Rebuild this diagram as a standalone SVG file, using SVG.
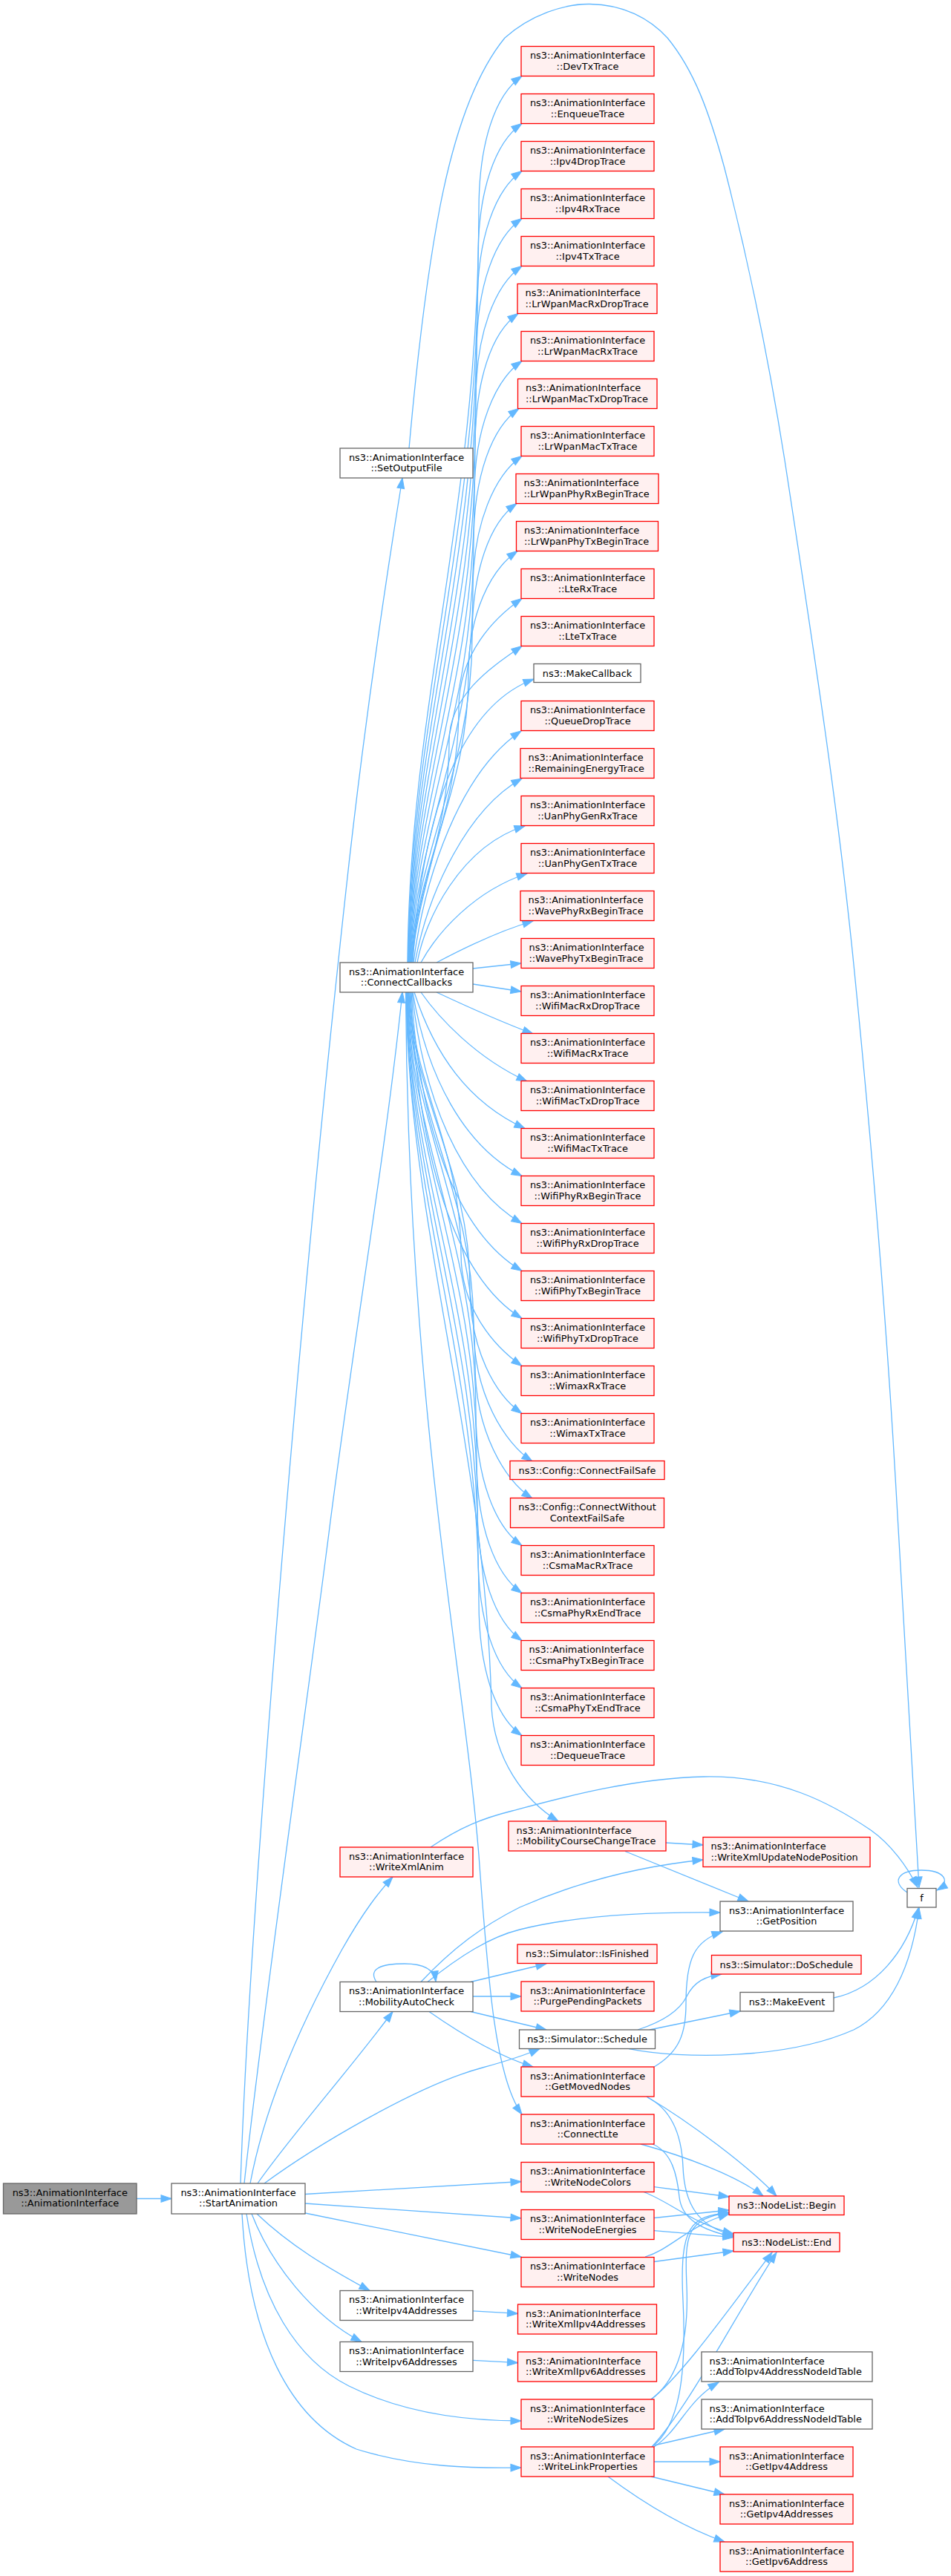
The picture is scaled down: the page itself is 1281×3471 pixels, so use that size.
<svg xmlns="http://www.w3.org/2000/svg" width="1281" height="3471" viewBox="0 0 1281 3471">
<style>
.red rect{fill:#fff0f0;stroke:#ff0000;stroke-width:1.3}
.gray rect{fill:#ffffff;stroke:#666666;stroke-width:1.3}
.root rect{fill:#999999;stroke:#666666;stroke-width:1.3}
text{font-family:"DejaVu Sans",sans-serif;font-size:12.9px;fill:#000000;text-anchor:middle}
text.l{text-anchor:start}
#edges path{fill:none;stroke:#63b8ff;stroke-width:1.3;marker-end:url(#arr)}
</style>
<defs>
<marker id="arr" markerUnits="userSpaceOnUse" markerWidth="14" markerHeight="10" refX="13" refY="4.5" orient="auto" viewBox="0 0 13 9" overflow="visible">
<path d="M0,0 L13,4.5 L0,9 z" fill="#63b8ff" stroke="#63b8ff" stroke-width="1"/>
</marker>
</defs>
<rect width="1281" height="3471" fill="#ffffff"/>
<g id="edges">
<path d="M184,2962.5 L231,2962.5"/>
<path d="M324,2942 C335,2600 400,1800 466,1200 C490,980 520,780 542,644"/>
<path d="M329,2942 C355,2700 420,2250 445,2050 C480,1780 520,1550 542,1337"/>
<path d="M337,2942 C360,2820 420,2700 460,2628 C490,2575 510,2550 529,2529"/>
<path d="M347,2942 C390,2880 470,2790 529,2710.5"/>
<path d="M356,2942 C420,2895 560,2810 650,2786 C690,2775 710,2768 727,2760.5"/>
<path d="M411,2956.5 L702,2939.5"/>
<path d="M411,2969 L702,2989"/>
<path d="M411,2982 L702,3041"/>
<path d="M346,2983 C390,3025 440,3055 498,3086.5"/>
<path d="M339,2983 C365,3050 420,3120 487,3155.5"/>
<path d="M332,2983 C350,3100 400,3180 470,3215 C540,3250 620,3262 702,3262"/>
<path d="M326,2983 C335,3150 390,3260 480,3300 C560,3325 640,3326 702,3325"/>
<path d="M637,3113.8 L697.5,3117.4"/>
<path d="M637,3180.4 L697.5,3183.7"/>
<path d="M551,604 C562,480 575,370 593,277 C612,180 640,100 680,51 C715,20 760,5 794.5,5.5 C840,6 875,25 899,51 C935,95 955,150 975.5,225 C1000,320 1030,450 1057,620 C1100,900 1130,1100 1150,1300 C1175,1550 1195,1800 1206,1990 C1218,2200 1230,2400 1238,2543"/>
<path d="M549,1297 C552,942 645,688 645,282.5 C645,192.5 667,127.5 703,102.5"/>
<path d="M549.5,1297 C553,964 644,727 644,346.5 C644,256.5 667,191.5 703,166.5"/>
<path d="M550,1297 C554,987 643,765 643,410.5 C643,320.5 667,255.5 703,230.5"/>
<path d="M550.5,1297 C555,1009 642,804 642,474.5 C642,384.5 667,319.5 703,294.5"/>
<path d="M551,1297 C556,1032 641,842 641,538.5 C641,448.5 667,383.5 703,358.5"/>
<path d="M551.5,1297 C557,1054 640,880 640,602.5 C640,512.5 662,447.5 698,422.5"/>
<path d="M552,1297 C558,1076 639,919 639,666.5 C639,576.5 667,511.5 703,486.5"/>
<path d="M552.5,1297 C559,1099 638,957 638,730.5 C638,640.5 663,575.5 699,550.5"/>
<path d="M553,1297 C560,1121 637,996 637,794.5 C637,704.5 667,639.5 703,614.5"/>
<path d="M553.5,1297 C561,1144 636,1034 636,858.5 C636,768.5 660,703.5 696,678.5"/>
<path d="M554,1297 C562,1161 631,1064 631,909 C631,826 661,767.5 697,742.5"/>
<path d="M554.5,1297 C563,1177 618,1091 618,954 C618,880 667,831.5 703,806.5"/>
<path d="M555,1297 C564,1192 605,1118 605,998.5 C605,934.5 667,895.5 703,870.5"/>
<path d="M556,1297 C565,1150 600,960 719,915"/>
<path d="M557,1297 C572,1180 620,1040 702,985"/>
<path d="M559,1297 C577,1200 630,1090 703,1049"/>
<path d="M562,1297 C572,1240 620,1140 707,1113"/>
<path d="M567,1297 C590,1255 640,1200 710,1177"/>
<path d="M588,1297 C620,1280 670,1255 718,1241"/>
<path d="M637,1305 L702,1298"/>
<path d="M637,1326 L702,1336"/>
<path d="M588,1337 C620,1352 670,1375 718,1393"/>
<path d="M567,1337 C590,1370 640,1425 710,1457"/>
<path d="M558,1337 C585,1420 630,1485 707,1520.5"/>
<path d="M556,1337 C575,1450 625,1545 703,1584.5"/>
<path d="M555,1337 C570,1480 620,1600 703,1648.5"/>
<path d="M554,1337 C565,1520 615,1660 703,1712.5"/>
<path d="M553,1337 C563,1560 612,1720 703,1776.5"/>
<path d="M552,1337 C555,1460 621,1548 621,1689.5 C621,1765 667,1815.5 703,1840.5"/>
<path d="M551,1337 C554,1476 633,1575 633,1734 C633,1819 667,1879.5 703,1904.5"/>
<path d="M550.5,1337 C553,1495 638,1608 638,1788.5 C638,1878.5 680,1945 717,1969"/>
<path d="M550,1337 C553,1512 640,1638 640,1838.5 C640,1928.5 680,1995 717,2019"/>
<path d="M549.5,1337 C552,1535 641,1676 641,1902.5 C641,1992.5 667,2057.5 703,2082.5"/>
<path d="M549,1337 C552,1557 642,1715 642,1966.5 C642,2056.5 667,2121.5 703,2146.5"/>
<path d="M548.5,1337 C551,1580 643,1753 643,2030.5 C643,2120.5 667,2185.5 703,2210.5"/>
<path d="M548,1337 C551,1602 644,1791.5 644,2094.5 C644,2184.5 667,2249.5 703,2274.5"/>
<path d="M547.5,1337 C550,1624.5 645,1830 645,2158.5 C645,2248.5 667,2313.5 703,2338.5"/>
<path d="M547,1337 C550,1650 655,1950 662,2300 C666,2370 705,2425 752,2454"/>
<path d="M546.5,1337 C550,1900 625,2250 645,2500 C658,2680 668,2800 703,2849"/>
<path d="M580,2489 C620,2462 650,2450 690,2440 C750,2424 850,2396 948,2394 C1050,2392 1120,2430 1173,2466 C1200,2485 1222,2515 1236,2543"/>
<path d="M897,2483 L947,2486"/>
<path d="M842,2494.5 L1008,2562"/>
<path d="M507,2670.5 C495,2652 515,2646 545,2646 C570,2646 585,2653 587,2670"/>
<path d="M567,2670.5 C610,2625 650,2595 700,2570 C780,2535 860,2515 947,2506"/>
<path d="M576,2670.5 C620,2635 660,2610 700,2600 C780,2580 880,2576 970,2577"/>
<path d="M634,2670.5 L736,2646"/>
<path d="M637,2690 L702,2690"/>
<path d="M634,2710.5 L736,2735"/>
<path d="M578,2710.5 C620,2740 670,2770 718,2785"/>
<path d="M859,2735 C890,2725 915,2710 925,2690 C935,2670 950,2663 972,2660"/>
<path d="M875,2735 L997,2710"/>
<path d="M847,2760.6 C920,2775 1060,2775 1150,2735 C1200,2710 1228,2650 1238,2571"/>
<path d="M1123,2692 C1180,2680 1220,2630 1237,2571"/>
<path d="M1222,2550 C1200,2535 1210,2520 1241,2520 C1272,2520 1282,2535 1262,2547"/>
<path d="M881,2785 C915,2765 924,2740 924,2700 C924,2640 935,2615 973,2603"/>
<path d="M871,2825 C930,2860 1010,2920 1046,2959"/>
<path d="M872,2826 C900,2840 918,2870 920,2920 C922,2970 940,3000 988,3012"/>
<path d="M863,2889 C920,2905 990,2930 1028,2959"/>
<path d="M879,2889 C905,2900 912,2930 915,2960 C918,2990 945,3005 988,3014"/>
<path d="M881,2946.6 L982,2960"/>
<path d="M867,2953.5 C905,2968 930,2995 988,3010"/>
<path d="M881,2988.5 L982,2978"/>
<path d="M881,3005.6 L988,3014.7"/>
<path d="M869,3041 C905,3030 925,3000 982,2983"/>
<path d="M881,3047.5 L988,3033"/>
<path d="M877,3233 C915,3205 928,3150 925,3080 C922,3010 925,2990 982,2981"/>
<path d="M877,3233 C920,3200 990,3100 1040,3035"/>
<path d="M878,3297 C915,3270 925,3200 920,3100 C915,3000 930,2985 982,2982"/>
<path d="M878,3297 C930,3240 990,3120 1046,3035"/>
<path d="M881,3297 C915,3275 925,3235 968,3210"/>
<path d="M881,3295 L976,3273"/>
<path d="M881,3317 L970,3317"/>
<path d="M877,3337 L976,3361"/>
<path d="M819,3337 C870,3375 920,3405 976,3425"/>
</g>
<g id="n-AnimationInterface" class="root"><rect x="4.5" y="2942" width="179.5" height="41"/><text x="94.25" y="2958.5">ns3::AnimationInterface</text><text x="94.25" y="2973">::AnimationInterface</text></g>
<g id="n-StartAnimation" class="gray"><rect x="231" y="2942" width="180" height="41"/><text x="321" y="2958.5">ns3::AnimationInterface</text><text x="321" y="2973">::StartAnimation</text></g>
<g id="n-SetOutputFile" class="gray"><rect x="458" y="604" width="179" height="40"/><text x="547.5" y="620.5">ns3::AnimationInterface</text><text x="547.5" y="635">::SetOutputFile</text></g>
<g id="n-ConnectCallbacks" class="gray"><rect x="458" y="1297" width="179" height="40"/><text x="547.5" y="1313.5">ns3::AnimationInterface</text><text x="547.5" y="1328">::ConnectCallbacks</text></g>
<g id="n-WriteXmlAnim" class="red"><rect x="458" y="2489" width="179" height="40"/><text x="547.5" y="2505.5">ns3::AnimationInterface</text><text x="547.5" y="2520">::WriteXmlAnim</text></g>
<g id="n-MobilityAutoCheck" class="gray"><rect x="458" y="2670.5" width="179" height="40"/><text x="547.5" y="2687">ns3::AnimationInterface</text><text x="547.5" y="2701.5">::MobilityAutoCheck</text></g>
<g id="n-WriteIpv4Addresses" class="gray"><rect x="458" y="3086.5" width="179" height="40"/><text x="547.5" y="3103">ns3::AnimationInterface</text><text x="547.5" y="3117.5">::WriteIpv4Addresses</text></g>
<g id="n-WriteIpv6Addresses" class="gray"><rect x="458" y="3155.5" width="179" height="40"/><text x="547.5" y="3172">ns3::AnimationInterface</text><text x="547.5" y="3186.5">::WriteIpv6Addresses</text></g>
<g id="n-DevTxTrace" class="red"><rect x="702" y="62.5" width="179" height="40"/><text x="791.5" y="79">ns3::AnimationInterface</text><text x="791.5" y="93.5">::DevTxTrace</text></g>
<g id="n-EnqueueTrace" class="red"><rect x="702" y="126.5" width="179" height="40"/><text x="791.5" y="143">ns3::AnimationInterface</text><text x="791.5" y="157.5">::EnqueueTrace</text></g>
<g id="n-Ipv4DropTrace" class="red"><rect x="702" y="190.5" width="179" height="40"/><text x="791.5" y="207">ns3::AnimationInterface</text><text x="791.5" y="221.5">::Ipv4DropTrace</text></g>
<g id="n-Ipv4RxTrace" class="red"><rect x="702" y="254.5" width="179" height="40"/><text x="791.5" y="271">ns3::AnimationInterface</text><text x="791.5" y="285.5">::Ipv4RxTrace</text></g>
<g id="n-Ipv4TxTrace" class="red"><rect x="702" y="318.5" width="179" height="40"/><text x="791.5" y="335">ns3::AnimationInterface</text><text x="791.5" y="349.5">::Ipv4TxTrace</text></g>
<g id="n-LrWpanMacRxDropTrace" class="red"><rect x="697" y="382.5" width="188" height="40"/><text class="l" x="707.5" y="399">ns3::AnimationInterface</text><text class="l" x="707.5" y="413.5">::LrWpanMacRxDropTrace</text></g>
<g id="n-LrWpanMacRxTrace" class="red"><rect x="702" y="446.5" width="179" height="40"/><text x="791.5" y="463">ns3::AnimationInterface</text><text x="791.5" y="477.5">::LrWpanMacRxTrace</text></g>
<g id="n-LrWpanMacTxDropTrace" class="red"><rect x="697.5" y="510.5" width="187.5" height="40"/><text class="l" x="708" y="527">ns3::AnimationInterface</text><text class="l" x="708" y="541.5">::LrWpanMacTxDropTrace</text></g>
<g id="n-LrWpanMacTxTrace" class="red"><rect x="702" y="574.5" width="179" height="40"/><text x="791.5" y="591">ns3::AnimationInterface</text><text x="791.5" y="605.5">::LrWpanMacTxTrace</text></g>
<g id="n-LrWpanPhyRxBeginTrace" class="red"><rect x="695" y="638.5" width="192" height="40"/><text class="l" x="705.5" y="655">ns3::AnimationInterface</text><text class="l" x="705.5" y="669.5">::LrWpanPhyRxBeginTrace</text></g>
<g id="n-LrWpanPhyTxBeginTrace" class="red"><rect x="695.5" y="702.5" width="191" height="40"/><text class="l" x="706" y="719">ns3::AnimationInterface</text><text class="l" x="706" y="733.5">::LrWpanPhyTxBeginTrace</text></g>
<g id="n-LteRxTrace" class="red"><rect x="702" y="766.5" width="179" height="40"/><text x="791.5" y="783">ns3::AnimationInterface</text><text x="791.5" y="797.5">::LteRxTrace</text></g>
<g id="n-LteTxTrace" class="red"><rect x="702" y="830.5" width="179" height="40"/><text x="791.5" y="847">ns3::AnimationInterface</text><text x="791.5" y="861.5">::LteTxTrace</text></g>
<g id="n-MakeCallback" class="gray"><rect x="719" y="894.5" width="144" height="25"/><text x="791" y="911.5">ns3::MakeCallback</text></g>
<g id="n-QueueDropTrace" class="red"><rect x="702" y="944.5" width="179" height="40"/><text x="791.5" y="961">ns3::AnimationInterface</text><text x="791.5" y="975.5">::QueueDropTrace</text></g>
<g id="n-RemainingEnergyTrace" class="red"><rect x="701" y="1008.5" width="180" height="40"/><text class="l" x="711.5" y="1025">ns3::AnimationInterface</text><text class="l" x="711.5" y="1039.5">::RemainingEnergyTrace</text></g>
<g id="n-UanPhyGenRxTrace" class="red"><rect x="702" y="1072.5" width="179" height="40"/><text x="791.5" y="1089">ns3::AnimationInterface</text><text x="791.5" y="1103.5">::UanPhyGenRxTrace</text></g>
<g id="n-UanPhyGenTxTrace" class="red"><rect x="702" y="1136.5" width="179" height="40"/><text x="791.5" y="1153">ns3::AnimationInterface</text><text x="791.5" y="1167.5">::UanPhyGenTxTrace</text></g>
<g id="n-WavePhyRxBeginTrace" class="red"><rect x="701" y="1200.5" width="180" height="40"/><text class="l" x="711.5" y="1217">ns3::AnimationInterface</text><text class="l" x="711.5" y="1231.5">::WavePhyRxBeginTrace</text></g>
<g id="n-WavePhyTxBeginTrace" class="red"><rect x="702" y="1264.5" width="179" height="40"/><text class="l" x="712.5" y="1281">ns3::AnimationInterface</text><text class="l" x="712.5" y="1295.5">::WavePhyTxBeginTrace</text></g>
<g id="n-WifiMacRxDropTrace" class="red"><rect x="702" y="1328.5" width="179" height="40"/><text x="791.5" y="1345">ns3::AnimationInterface</text><text x="791.5" y="1359.5">::WifiMacRxDropTrace</text></g>
<g id="n-WifiMacRxTrace" class="red"><rect x="702" y="1392.5" width="179" height="40"/><text x="791.5" y="1409">ns3::AnimationInterface</text><text x="791.5" y="1423.5">::WifiMacRxTrace</text></g>
<g id="n-WifiMacTxDropTrace" class="red"><rect x="702" y="1456.5" width="179" height="40"/><text x="791.5" y="1473">ns3::AnimationInterface</text><text x="791.5" y="1487.5">::WifiMacTxDropTrace</text></g>
<g id="n-WifiMacTxTrace" class="red"><rect x="702" y="1520.5" width="179" height="40"/><text x="791.5" y="1537">ns3::AnimationInterface</text><text x="791.5" y="1551.5">::WifiMacTxTrace</text></g>
<g id="n-WifiPhyRxBeginTrace" class="red"><rect x="702" y="1584.5" width="179" height="40"/><text x="791.5" y="1601">ns3::AnimationInterface</text><text x="791.5" y="1615.5">::WifiPhyRxBeginTrace</text></g>
<g id="n-WifiPhyRxDropTrace" class="red"><rect x="702" y="1648.5" width="179" height="40"/><text x="791.5" y="1665">ns3::AnimationInterface</text><text x="791.5" y="1679.5">::WifiPhyRxDropTrace</text></g>
<g id="n-WifiPhyTxBeginTrace" class="red"><rect x="702" y="1712.5" width="179" height="40"/><text x="791.5" y="1729">ns3::AnimationInterface</text><text x="791.5" y="1743.5">::WifiPhyTxBeginTrace</text></g>
<g id="n-WifiPhyTxDropTrace" class="red"><rect x="702" y="1776.5" width="179" height="40"/><text x="791.5" y="1793">ns3::AnimationInterface</text><text x="791.5" y="1807.5">::WifiPhyTxDropTrace</text></g>
<g id="n-WimaxRxTrace" class="red"><rect x="702" y="1840.5" width="179" height="40"/><text x="791.5" y="1857">ns3::AnimationInterface</text><text x="791.5" y="1871.5">::WimaxRxTrace</text></g>
<g id="n-WimaxTxTrace" class="red"><rect x="702" y="1904.5" width="179" height="40"/><text x="791.5" y="1921">ns3::AnimationInterface</text><text x="791.5" y="1935.5">::WimaxTxTrace</text></g>
<g id="n-ConnectFailSafe" class="red"><rect x="687" y="1968.5" width="208" height="25"/><text x="791" y="1985.5">ns3::Config::ConnectFailSafe</text></g>
<g id="n-ConnectWithoutContextFailSafe" class="red"><rect x="687.5" y="2018.5" width="207" height="40"/><text x="791" y="2035">ns3::Config::ConnectWithout</text><text x="791" y="2049.5">ContextFailSafe</text></g>
<g id="n-CsmaMacRxTrace" class="red"><rect x="702" y="2082.5" width="179" height="40"/><text x="791.5" y="2099">ns3::AnimationInterface</text><text x="791.5" y="2113.5">::CsmaMacRxTrace</text></g>
<g id="n-CsmaPhyRxEndTrace" class="red"><rect x="702" y="2146.5" width="179" height="40"/><text x="791.5" y="2163">ns3::AnimationInterface</text><text x="791.5" y="2177.5">::CsmaPhyRxEndTrace</text></g>
<g id="n-CsmaPhyTxBeginTrace" class="red"><rect x="702" y="2210.5" width="179" height="40"/><text class="l" x="712.5" y="2227">ns3::AnimationInterface</text><text class="l" x="712.5" y="2241.5">::CsmaPhyTxBeginTrace</text></g>
<g id="n-CsmaPhyTxEndTrace" class="red"><rect x="702" y="2274.5" width="179" height="40"/><text x="791.5" y="2291">ns3::AnimationInterface</text><text x="791.5" y="2305.5">::CsmaPhyTxEndTrace</text></g>
<g id="n-DequeueTrace" class="red"><rect x="702" y="2338.5" width="179" height="40"/><text x="791.5" y="2355">ns3::AnimationInterface</text><text x="791.5" y="2369.5">::DequeueTrace</text></g>
<g id="n-MobilityCourseChangeTrace" class="red"><rect x="685" y="2454" width="212" height="40"/><text class="l" x="695.5" y="2470.5">ns3::AnimationInterface</text><text class="l" x="695.5" y="2485">::MobilityCourseChangeTrace</text></g>
<g id="n-IsFinished" class="red"><rect x="697" y="2620" width="188" height="25.5"/><text x="791" y="2637">ns3::Simulator::IsFinished</text></g>
<g id="n-PurgePendingPackets" class="red"><rect x="702" y="2670" width="179" height="40"/><text x="791.5" y="2686.5">ns3::AnimationInterface</text><text x="791.5" y="2701">::PurgePendingPackets</text></g>
<g id="n-Schedule" class="gray"><rect x="699.5" y="2735" width="183" height="25.5"/><text x="791" y="2752">ns3::Simulator::Schedule</text></g>
<g id="n-GetMovedNodes" class="red"><rect x="702" y="2785" width="179" height="40"/><text x="791.5" y="2801.5">ns3::AnimationInterface</text><text x="791.5" y="2816">::GetMovedNodes</text></g>
<g id="n-ConnectLte" class="red"><rect x="702" y="2849" width="179" height="40"/><text x="791.5" y="2865.5">ns3::AnimationInterface</text><text x="791.5" y="2880">::ConnectLte</text></g>
<g id="n-WriteNodeColors" class="red"><rect x="702" y="2913.5" width="179" height="40"/><text x="791.5" y="2930">ns3::AnimationInterface</text><text x="791.5" y="2944.5">::WriteNodeColors</text></g>
<g id="n-WriteNodeEnergies" class="red"><rect x="702" y="2977.5" width="179" height="40"/><text x="791.5" y="2994">ns3::AnimationInterface</text><text x="791.5" y="3008.5">::WriteNodeEnergies</text></g>
<g id="n-WriteNodes" class="red"><rect x="702" y="3041.5" width="179" height="40"/><text x="791.5" y="3058">ns3::AnimationInterface</text><text x="791.5" y="3072.5">::WriteNodes</text></g>
<g id="n-WriteXmlIpv4Addresses" class="red"><rect x="697.5" y="3105" width="187" height="40"/><text class="l" x="708" y="3121.5">ns3::AnimationInterface</text><text class="l" x="708" y="3136">::WriteXmlIpv4Addresses</text></g>
<g id="n-WriteXmlIpv6Addresses" class="red"><rect x="697.5" y="3169" width="187" height="40"/><text class="l" x="708" y="3185.5">ns3::AnimationInterface</text><text class="l" x="708" y="3200">::WriteXmlIpv6Addresses</text></g>
<g id="n-WriteNodeSizes" class="red"><rect x="702" y="3233" width="179" height="40"/><text x="791.5" y="3249.5">ns3::AnimationInterface</text><text x="791.5" y="3264">::WriteNodeSizes</text></g>
<g id="n-WriteLinkProperties" class="red"><rect x="702" y="3297" width="179" height="40"/><text x="791.5" y="3313.5">ns3::AnimationInterface</text><text x="791.5" y="3328">::WriteLinkProperties</text></g>
<g id="n-WriteXmlUpdateNodePosition" class="red"><rect x="947" y="2475.5" width="225" height="40"/><text class="l" x="957.5" y="2492">ns3::AnimationInterface</text><text class="l" x="957.5" y="2506.5">::WriteXmlUpdateNodePosition</text></g>
<g id="n-GetPosition" class="gray"><rect x="970" y="2562" width="179" height="40"/><text x="1059.5" y="2578.5">ns3::AnimationInterface</text><text x="1059.5" y="2593">::GetPosition</text></g>
<g id="n-DoSchedule" class="red"><rect x="958.5" y="2634.5" width="201.5" height="25.5"/><text x="1059.25" y="2651.5">ns3::Simulator::DoSchedule</text></g>
<g id="n-MakeEvent" class="gray"><rect x="997" y="2684.5" width="126" height="25.5"/><text x="1060" y="2701.5">ns3::MakeEvent</text></g>
<g id="n-NodeListBegin" class="red"><rect x="982" y="2959" width="155" height="25.5"/><text x="1059.5" y="2976">ns3::NodeList::Begin</text></g>
<g id="n-NodeListEnd" class="red"><rect x="988" y="3008.5" width="143" height="25.5"/><text x="1059.5" y="3025.5">ns3::NodeList::End</text></g>
<g id="n-AddToIpv4AddressNodeIdTable" class="gray"><rect x="945" y="3169" width="230" height="40"/><text class="l" x="955.5" y="3185.5">ns3::AnimationInterface</text><text class="l" x="955.5" y="3200">::AddToIpv4AddressNodeIdTable</text></g>
<g id="n-AddToIpv6AddressNodeIdTable" class="gray"><rect x="945" y="3233" width="230" height="40"/><text class="l" x="955.5" y="3249.5">ns3::AnimationInterface</text><text class="l" x="955.5" y="3264">::AddToIpv6AddressNodeIdTable</text></g>
<g id="n-GetIpv4Address" class="red"><rect x="970" y="3297" width="179" height="40"/><text x="1059.5" y="3313.5">ns3::AnimationInterface</text><text x="1059.5" y="3328">::GetIpv4Address</text></g>
<g id="n-GetIpv4Addresses" class="red"><rect x="970" y="3361" width="179" height="40"/><text x="1059.5" y="3377.5">ns3::AnimationInterface</text><text x="1059.5" y="3392">::GetIpv4Addresses</text></g>
<g id="n-GetIpv6Address" class="red"><rect x="970" y="3425" width="179" height="40"/><text x="1059.5" y="3441.5">ns3::AnimationInterface</text><text x="1059.5" y="3456">::GetIpv6Address</text></g>
<g id="n-f" class="gray"><rect x="1222" y="2544.5" width="39" height="25.5"/><text x="1241.5" y="2561.5">f</text></g>
</svg>
